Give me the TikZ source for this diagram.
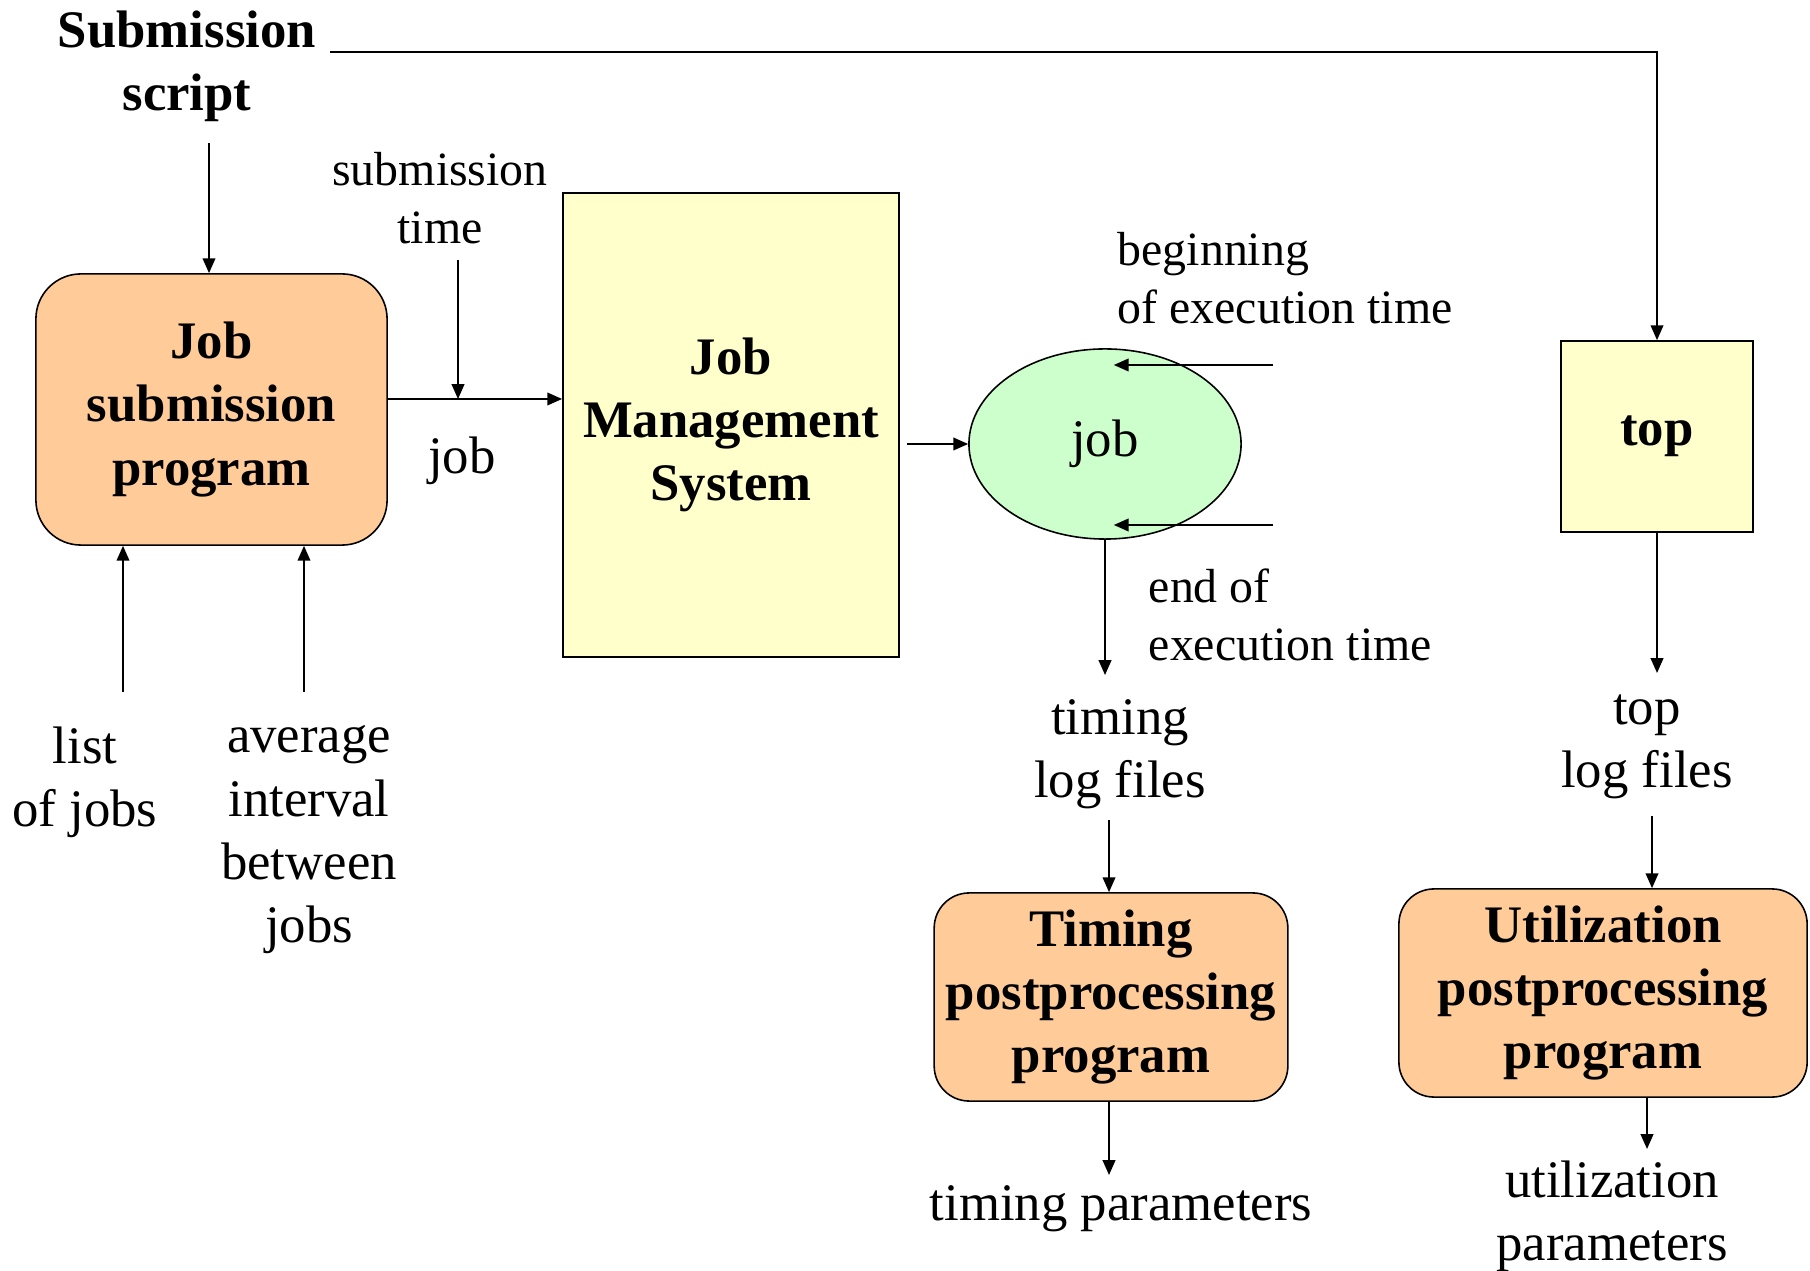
\documentclass[tikz,border=0pt]{standalone}
\usepackage{fontspec}
\setmainfont{Liberation Serif}
\usetikzlibrary{shapes.geometric, arrows.meta, calc}

\definecolor{peach}{HTML}{FFCC99}
\definecolor{paleyellow}{HTML}{FFFFCC}
\definecolor{palegreen}{HTML}{CCFFCC}

\begin{document}
\begin{tikzpicture}[x=0.01cm, y=-0.01cm, line width=0.45pt,
arr/.style={-{Triangle[length=4.2pt, width=3.6pt]}},
prog/.style={draw, fill=peach, align=center, font=\fontsize{15}{18}\selectfont\bfseries},
sysbox/.style={draw, fill=paleyellow, align=center, font=\fontsize{15}{18}\selectfont\bfseries},
jobnode/.style={ellipse, draw, fill=palegreen, inner sep=0pt, font=\fontsize{15}{18}\selectfont},
lbl/.style={align=center, inner sep=0pt, font=\fontsize{15}{18}\selectfont},
note/.style={align=left, anchor=west, inner sep=0pt, font=\fontsize{13.6}{16.4}\selectfont}]
\useasboundingbox (0,0) rectangle (1810,1271);

% submission side
\node[lbl, font=\fontsize{15}{18}\selectfont\bfseries] (script) at (187,66) {Submission\\script};
\node[prog, rounded corners=4.5mm, minimum width=3.51cm, minimum height=2.71cm] (jsp) at (211.5,409.5) {Job\\submission\\program};
\node[lbl] (list) at (85,782) {list\\of jobs};
\node[lbl] (avg) at (309,840) {average\\interval\\between\\jobs};
\node[lbl, font=\fontsize{13.6}{16.4}\selectfont] (subt) at (440,198) {submission\\time};
\node[lbl] (joblbl) at (462,461) {job};

% job management system and the running job
\node[sysbox, minimum width=3.36cm, minimum height=4.64cm] (jms) at (731,425) {Job\\Management\\System};
\node[jobnode, minimum width=2.72cm, minimum height=1.90cm] (ell) at (1105,444) {job};
\node[note] (bgn) at (1117,278) {beginning\\of execution time};
\node[note] (fin) at (1148,615) {end of\\execution time};

% timing branch
\node[lbl] (tlog) at (1120,754) {timing\\log files};
\node[prog, rounded corners=3.5mm, minimum width=3.52cm, minimum height=2.08cm] (tpp) at (1111,997) {Timing\\postprocessing\\program};
\node[lbl] (tpar) at (1121,1209) {timing parameters};

% top branch
\node[sysbox, minimum width=1.92cm, minimum height=1.91cm] (top) at (1657,436.5) {top};
\node[lbl] (toplog) at (1647,747) {top\\log files};
\node[prog, rounded corners=3.5mm, minimum width=4.08cm, minimum height=2.08cm] (upp) at (1603,993) {Utilization\\postprocessing\\program};
\node[lbl] (upar) at (1612,1216) {utilization\\parameters};

% free ends of the connectors
\coordinate (scrin) at (209,143);
\coordinate (scrline) at (330,52);
\coordinate (fork) at (458,399);
\coordinate (subin) at (458,260);
\coordinate (listout) at (123,692);
\coordinate (avgout) at (304,692);
\coordinate (bgnin) at (1273,365);
\coordinate (finin) at (1273,525);
\coordinate (tlogin) at (1107,675);
\coordinate (tlogout) at (1109,820);
\coordinate (tparin) at (1109,1175);
\coordinate (toplogin) at (1655,673);
\coordinate (toplogout) at (1652,816);
\coordinate (uparin) at (1647,1149);

% connectors
\draw[arr] (scrin) -- (scrin |- jsp.north);
\draw[arr] (scrline) -| (top.north);
\draw[arr] (listout) -- (listout |- jsp.south);
\draw[arr] (avgout) -- (avgout |- jsp.south);
\draw[arr] (jsp.east |- fork) -- (jms.west |- fork);
\draw[arr] (subin) -- (fork);
\draw[arr, shorten <=2pt] (jms.east |- ell.west) -- (ell.west);
\draw[arr, shorten >=2.5pt] (bgnin) -- (bgnin -| ell.center);
\draw[arr, shorten >=2.5pt] (finin) -- (finin -| ell.center);
\draw[arr] (ell.south) -- (ell.south |- tlogin);
\draw[arr] (tlogout) -- (tlogout |- tpp.north);
\draw[arr] (tlogout |- tpp.south) -- (tparin);
\draw[arr] (top.south) -- (top.south |- toplogin);
\draw[arr] (toplogout) -- (toplogout |- upp.north);
\draw[arr] (uparin |- upp.south) -- (uparin);
\end{tikzpicture}
\end{document}
